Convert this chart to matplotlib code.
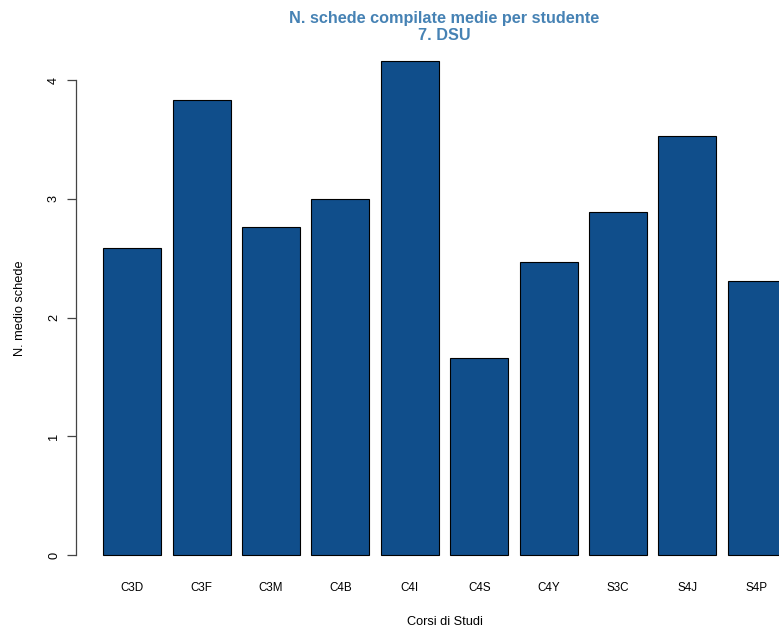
import numpy as np
import matplotlib
matplotlib.use('Agg')
import matplotlib.pyplot as plt

plt.rcParams['font.family'] = ['Liberation Sans', 'DejaVu Sans']

corsi = ['C3D', 'C3F', 'C3M', 'C4B', 'C4I', 'C4S', 'C4Y', 'S3C', 'S4J', 'S4P']
schede_medie = [2.59, 3.83, 2.76, 3.00, 4.16, 1.66, 2.47, 2.89, 3.53, 2.31]
yticks = [0, 1, 2, 3, 4]

W, H = 779, 629
fig = plt.figure(figsize=(W / 100, H / 100), dpi=100)

# area del grafico come barplot di R (l'ultima barra esce dal bordo)
left_px, right_px, top_px, bottom_px = 76, 813, 40.6, 574.8
ax = fig.add_axes([left_px / W, 1 - bottom_px / H,
                   (right_px - left_px) / W, (bottom_px - top_px) / H])

pos = 0.7 + 1.2 * np.arange(len(corsi))
ax.bar(pos, schede_medie, width=1.0, color='#104E8B', edgecolor='black',
       linewidth=0.8)

ax.set_xlim(-0.272, 12.472)
ax.set_ylim(-0.1667, 4.333)

for s in ['top', 'right', 'bottom']:
    ax.spines[s].set_visible(False)
ax.spines['left'].set_bounds(0, 4)
ax.spines['left'].set_color('#444444')
ax.spines['left'].set_linewidth(0.9)

ax.set_yticks(yticks)
ax.set_yticklabels([str(v) for v in yticks], rotation=90, va='center',
                   fontsize=9.2)
ax.tick_params(axis='y', length=6.5, width=0.9, color='#444444', pad=5)

ax.set_xticks(pos)
ax.set_xticklabels(corsi, fontsize=8.4)
ax.tick_params(axis='x', length=0, pad=5)

ax.set_xlabel('Corsi di Studi', fontsize=9.2, labelpad=16)
ax.set_ylabel('N. medio schede', fontsize=9.2, labelpad=15.5)

fig.text((left_px + right_px) / 2 / W, 1 - 27 / H,
         'N. schede compilate medie per studente\n7. DSU',
         ha='center', va='center', fontsize=11.7, fontweight='bold',
         color='#4682B4', linespacing=1.15)

fig.savefig('out.png', dpi=100)
